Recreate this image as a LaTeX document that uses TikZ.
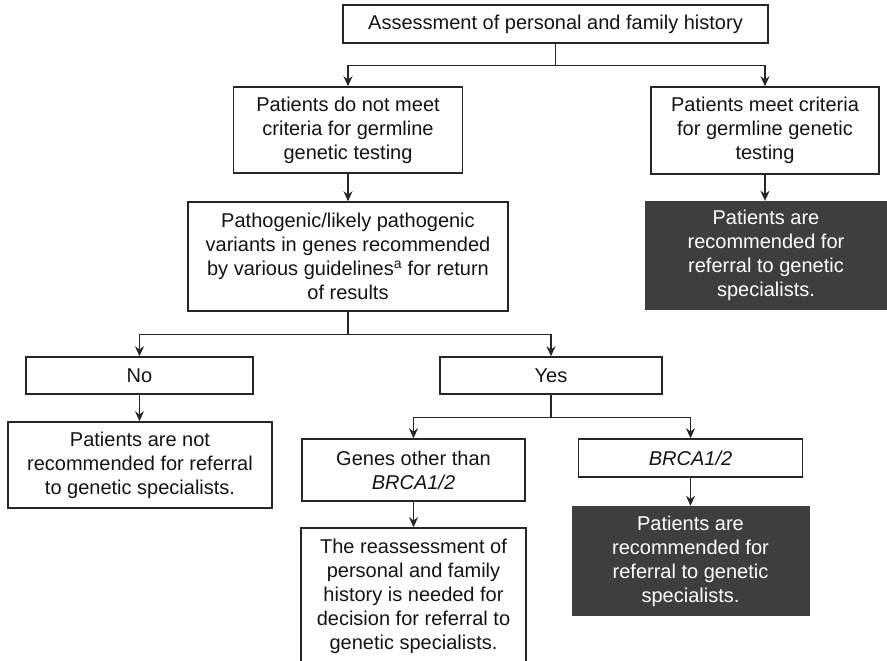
\documentclass[tikz,border=0pt]{standalone}
\usepackage{fontspec}
\setmainfont{Liberation Sans}
\usetikzlibrary{arrows.meta}

\definecolor{linec}{HTML}{262626}
\definecolor{textc}{HTML}{141414}
\definecolor{darkc}{HTML}{3E3E3E}
\newcommand\boxfont{\fontsize{20}{24}\selectfont}

\tikzset{
  box/.style={draw=linec, line width=1.5pt, fill=white, text=textc,
    align=center, inner sep=0pt, font=\boxfont},
  darkbox/.style={fill=darkc, text=white, align=center, inner sep=0pt,
    font=\boxfont},
  conn/.style={draw=linec, line width=1.4pt},
  arr/.style={conn, -{Stealth[length=10pt,width=9pt]}},
}

\begin{document}
\begin{tikzpicture}[x=1pt,y=-1pt]
  \clip (0,0) rectangle (887,661);
  \fill[white] (0,0) rectangle (887,661);

  % top level
  \node[box, minimum width=425, minimum height=38] (assess) at (555.5,24)
    {Assessment of personal and family history};
  \node[box, minimum width=229, minimum height=86] (nomeet) at (348,130)
    {Patients do not meet\\criteria for germline\\genetic testing};
  \node[box, minimum width=228, minimum height=87] (meet) at (765,130.5)
    {Patients meet criteria\\for germline genetic\\testing};
  \node[darkbox, minimum width=242, minimum height=109] (refer1) at (766,255.5)
    {Patients are\\recommended for\\referral to genetic\\specialists.};

  % pathogenic variant question
  \node[box, minimum width=320, minimum height=109] (patho) at (348,256.5)
    {Pathogenic/likely pathogenic\\variants in genes recommended\\by various guidelines\textsuperscript{a} for return\\of results};
  \node[box, minimum width=227, minimum height=37] (no) at (139.5,375.5) {No};
  \node[box, minimum width=222, minimum height=37] (yes) at (551,375.5) {Yes};
  \node[box, minimum width=264, minimum height=86] (notref) at (140,465)
    {Patients are not\\recommended for referral\\to genetic specialists.};

  % gene groups
  \node[box, minimum width=223, minimum height=62] (genes) at (413.5,470)
    {Genes other than\\\textit{BRCA1/2}};
  \node[box, minimum width=224, minimum height=38] (brca) at (690.5,458)
    {\textit{BRCA1/2}};
  \node[darkbox, minimum width=238, minimum height=110] (refer2) at (690.5,561)
    {Patients are\\recommended for\\referral to genetic\\specialists.};
  \node[box, minimum width=225, minimum height=136] (reassess) at (413.5,596)
    {The reassessment of\\personal and family\\history is needed for\\decision for referral to\\genetic specialists.};

  % junctions
  \path (assess.south) ++(0,22) coordinate (j1);
  \path (patho.south) ++(0,23) coordinate (j2);
  \path (yes.south) ++(0,23) coordinate (j3);

  % connectors
  \draw[conn] (assess.south) -- (j1);
  \draw[arr] (j1) -| (nomeet.north);
  \draw[arr] (j1) -| (meet.north);
  \draw[arr] (meet.south) -- (refer1.north -| meet.south);
  \draw[arr] (nomeet.south) -- (patho.north);
  \draw[conn] (patho.south) -- (j2);
  \draw[arr] (j2) -| (no.north);
  \draw[arr] (j2) -| (yes.north);
  \draw[arr] (no.south) -- (notref.north -| no.south);
  \draw[conn] (yes.south) -- (j3);
  \draw[arr] (j3) -| (genes.north);
  \draw[arr] (j3) -| (brca.north);
  \draw[arr] (brca.south) -- (refer2.north);
  \draw[arr] (genes.south) -- (reassess.north);
\end{tikzpicture}
\end{document}
